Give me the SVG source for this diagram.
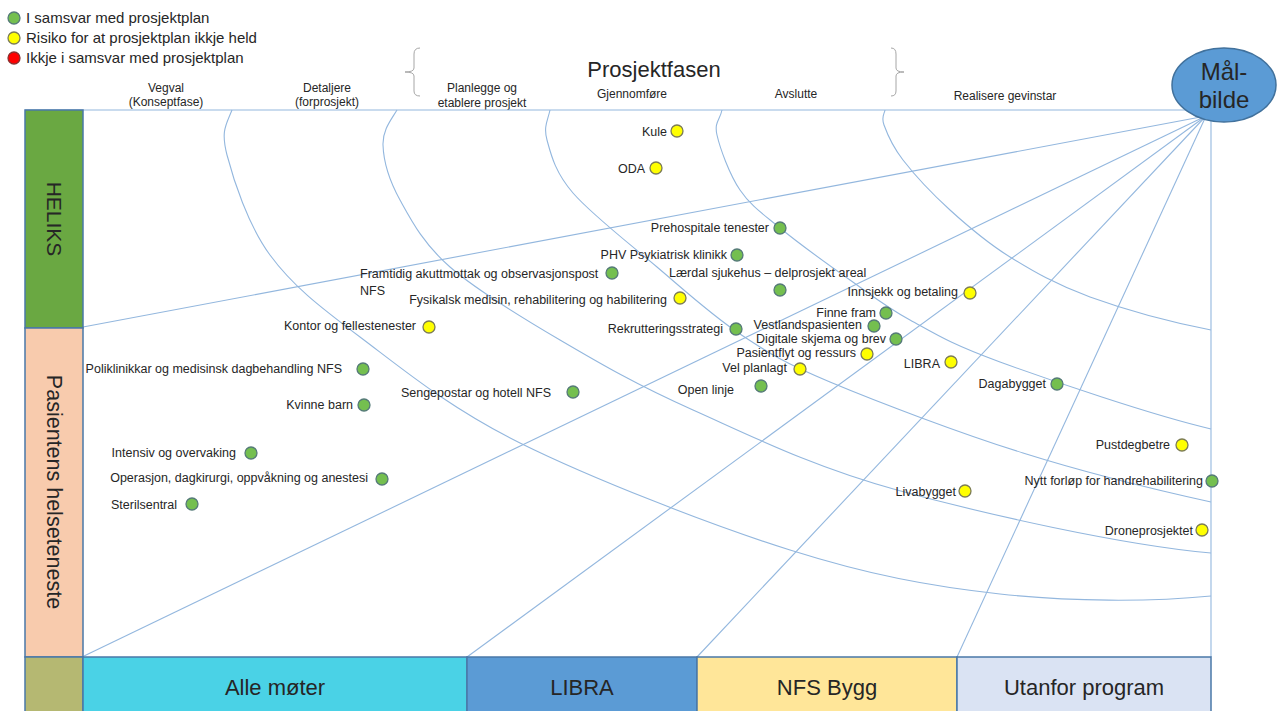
<svg xmlns="http://www.w3.org/2000/svg" width="1277" height="711" viewBox="0 0 1277 711">
<style>
text{font-family:"Liberation Sans",Arial,sans-serif;fill:#262626}
.lbl{font-size:12.5px}
.hdr{font-size:12px;text-anchor:middle}
.leg{font-size:15px}
.big{font-size:22px;text-anchor:middle}
.ln{fill:none;stroke:#93b7de;stroke-width:1.1}
.br{fill:none;stroke:#a6a6a6;stroke-width:1}
.g{fill:#74bf4f;stroke:#557a78;stroke-width:1.3}
.y{fill:#ffff00;stroke:#7c7c55;stroke-width:1.3}
.r{fill:#ff0000;stroke:#8a3030;stroke-width:1.3}
.box{stroke:#4a78a8;stroke-width:1.5}
</style>
<rect width="1277" height="711" fill="#ffffff"/>
<g id="legend">
<circle class="g" cx="14" cy="18" r="6"/><text class="leg" x="26" y="23">I samsvar med prosjektplan</text>
<circle class="y" cx="14" cy="38" r="6"/><text class="leg" x="26" y="43">Risiko for at prosjektplan ikkje held</text>
<circle class="r" cx="14" cy="58" r="6"/><text class="leg" x="26" y="63">Ikkje i samsvar med prosjektplan</text>
</g>
<g id="header">
<path class="br" d="M420,48 Q414,48 414,54 L414,68 Q414,72 405,72 Q414,72 414,76 L414,91 Q414,96 420,96"/>
<path class="br" d="M891,48 Q896,48 896,54 L896,68 Q896,72 904,72 Q896,72 896,76 L896,91 Q896,96 891,96"/>
<text class="big" x="654" y="77">Prosjektfasen</text>
<text class="hdr" x="166" y="92">Vegval</text><text class="hdr" x="166" y="106">(Konseptfase)</text>
<text class="hdr" x="327" y="92">Detaljere</text><text class="hdr" x="327" y="106">(forprosjekt)</text>
<text class="hdr" x="482" y="92">Planlegge og</text><text class="hdr" x="482" y="107">etablere prosjekt</text>
<text class="hdr" x="632" y="98">Gjennomføre</text>
<text class="hdr" x="796" y="98">Avslutte</text>
<text class="hdr" x="1005" y="100">Realisere gevinstar</text>
</g>
<g id="connectors">
<line class="ln" x1="25" y1="110" x2="1190" y2="110"/>
<line class="ln" x1="1211" y1="118" x2="1211" y2="657"/>
<line class="ln" x1="1206" y1="116" x2="83" y2="327"/>
<line class="ln" x1="1206" y1="116" x2="84" y2="656"/>
<line class="ln" x1="1206" y1="116" x2="467" y2="657"/>
<line class="ln" x1="1206" y1="116" x2="697" y2="657"/>
<line class="ln" x1="1206" y1="116" x2="957" y2="657"/>
<path class="ln" d="M232,110 C226,125 220.7,130.8 227,155 C233.3,179.2 247.8,224.7 270,255 C292.2,285.3 318.3,305.7 360,337 C401.7,368.3 448.3,407.5 520,443 C591.7,478.5 710,524.8 790,550 C870,575.2 929.8,586.3 1000,594 C1070,601.7 1150,602 1211,596"/>
<path class="ln" d="M397,110 C391,120 382.5,130 383,145 C383.5,160 388.8,179.7 400,200 C411.2,220.3 423.3,243.7 450,267 C476.7,290.3 519.5,316.2 560,340 C600.5,363.8 636.8,385 693,410 C749.2,435 810.5,466.2 897,490 C983.5,513.8 1122,545 1211,553"/>
<path class="ln" d="M550,110 C548,120 543.2,126.2 547,140 C550.8,153.8 554.7,171.8 573,193 C591.3,214.2 629.2,243.5 657,267 C684.8,290.5 711.2,314.8 740,334 C768.8,353.2 782.8,362.2 830,382 C877.2,401.8 959.3,433 1023,453 C1086.7,473 1152,489 1211,502"/>
<path class="ln" d="M722,110 C720,120 714,121.7 717,135 C720,148.3 729.5,174.5 740,190 C750.5,205.5 761.7,213 780,228 C798.3,243 828.3,264.7 850,280 C871.7,295.3 885,306.3 910,320 C935,333.7 949.8,343.8 1000,362 C1050.2,380.2 1151,415 1211,429"/>
<path class="ln" d="M885,110 C884,115 881,116.7 884,125 C887,133.3 892,145.8 903,160 C914,174.2 932.2,193.8 950,210 C967.8,226.2 986.7,242.5 1010,257 C1033.3,271.5 1056.3,284.8 1090,297 C1123.7,309.2 1170,322 1211,330"/>
</g>
<g id="target">
<ellipse cx="1224" cy="85" rx="52" ry="37" fill="#5b9bd5" stroke="#41719c" stroke-width="1.5"/>
<text x="1224" y="80" font-size="24" text-anchor="middle" fill="#1a1a1a">Mål-</text>
<text x="1224" y="108" font-size="24" text-anchor="middle" fill="#1a1a1a">bilde</text>
</g>
<g id="row-heliks">
<rect class="box" x="25" y="110" width="58" height="218" fill="#6aa842"/>
<text transform="translate(54,219) rotate(90)" y="7" font-size="21" text-anchor="middle">HELIKS</text>
</g>
<g id="row-pasient">
<rect class="box" x="25" y="328" width="58" height="329" fill="#f8cbad"/>
<text transform="translate(54,492) rotate(90)" y="7" font-size="21.5" text-anchor="middle">Pasientens helseteneste</text>
</g>
<g id="col-corner"><rect class="box" x="25" y="657" width="58" height="56" fill="#b5b872"/></g>
<g id="col-alle"><rect class="box" x="83" y="657" width="384" height="56" fill="#4ad2e6"/><text class="big" x="275" y="695">Alle møter</text></g>
<g id="col-libra"><rect class="box" x="467" y="657" width="230" height="56" fill="#5b9bd5"/><text class="big" x="582" y="695">LIBRA</text></g>
<g id="col-nfs"><rect class="box" x="697" y="657" width="260" height="56" fill="#ffe699"/><text class="big" x="827" y="695">NFS Bygg</text></g>
<g id="col-utanfor"><rect class="box" x="957" y="657" width="254" height="56" fill="#dae3f3"/><text class="big" x="1084" y="695">Utanfor program</text></g>
<g id="n-kule"><circle class="y" cx="677" cy="131" r="6"/><text class="lbl" x="667" y="135.5" text-anchor="end">Kule</text></g>
<g id="n-oda"><circle class="y" cx="656" cy="168" r="6"/><text class="lbl" x="645" y="173" text-anchor="end">ODA</text></g>
<g id="n-prehospitale"><circle class="g" cx="780" cy="228" r="6"/><text class="lbl" x="769" y="232" text-anchor="end">Prehospitale tenester</text></g>
<g id="n-phv"><circle class="g" cx="737" cy="255" r="6"/><text class="lbl" x="727" y="259" text-anchor="end">PHV Psykiatrisk klinikk</text></g>
<g id="n-framtidig"><circle class="g" cx="612" cy="273" r="6"/><text class="lbl" x="360" y="278">Framtidig akuttmottak og observasjonspost</text><text class="lbl" x="360" y="295">NFS</text></g>
<g id="n-laerdal"><circle class="g" cx="780" cy="290" r="6"/><text class="lbl" x="669" y="277">Lærdal sjukehus – delprosjekt areal</text></g>
<g id="n-fysikalsk"><circle class="y" cx="680" cy="298" r="6"/><text class="lbl" x="667" y="304" text-anchor="end">Fysikalsk medisin, rehabilitering og habilitering</text></g>
<g id="n-innsjekk"><circle class="y" cx="970" cy="293" r="6"/><text class="lbl" x="958" y="296" text-anchor="end">Innsjekk og betaling</text></g>
<g id="n-kontor"><circle class="y" cx="429" cy="327" r="6"/><text class="lbl" x="416" y="330" text-anchor="end">Kontor og fellestenester</text></g>
<g id="n-finne"><circle class="g" cx="886" cy="313" r="6"/><text class="lbl" x="876" y="317" text-anchor="end">Finne fram</text></g>
<g id="n-rekruttering"><circle class="g" cx="736" cy="329" r="6"/><text class="lbl" x="723" y="333" text-anchor="end">Rekrutteringsstrategi</text></g>
<g id="n-vestland"><circle class="g" cx="874" cy="326" r="6"/><text class="lbl" x="862" y="329" text-anchor="end">Vestlandspasienten</text></g>
<g id="n-digitale"><circle class="g" cx="896" cy="339" r="6"/><text class="lbl" x="886" y="343" text-anchor="end">Digitale skjema og brev</text></g>
<g id="n-pasientflyt"><circle class="y" cx="867" cy="354" r="6"/><text class="lbl" x="856" y="357" text-anchor="end">Pasientflyt og ressurs</text></g>
<g id="n-libra"><circle class="y" cx="951" cy="362" r="6"/><text class="lbl" x="940" y="368" text-anchor="end">LIBRA</text></g>
<g id="n-vel"><circle class="y" cx="800" cy="369" r="6"/><text class="lbl" x="787" y="372" text-anchor="end">Vel planlagt</text></g>
<g id="n-poliklinikk"><circle class="g" cx="363" cy="369" r="6"/><text class="lbl" x="342" y="373" text-anchor="end">Poliklinikkar og medisinsk dagbehandling NFS</text></g>
<g id="n-open"><circle class="g" cx="761" cy="386" r="6"/><text class="lbl" x="734" y="394" text-anchor="end">Open linje</text></g>
<g id="n-daga"><circle class="g" cx="1057" cy="384" r="6"/><text class="lbl" x="1046" y="388" text-anchor="end">Dagabygget</text></g>
<g id="n-senge"><circle class="g" cx="573" cy="392" r="6"/><text class="lbl" x="551" y="397" text-anchor="end">Sengepostar og hotell NFS</text></g>
<g id="n-kvinne"><circle class="g" cx="364" cy="405" r="6"/><text class="lbl" x="353" y="409" text-anchor="end">Kvinne barn</text></g>
<g id="n-pust"><circle class="y" cx="1182" cy="445" r="6"/><text class="lbl" x="1170" y="449" text-anchor="end">Pustdegbetre</text></g>
<g id="n-intensiv"><circle class="g" cx="251" cy="453" r="6"/><text class="lbl" x="236" y="457" text-anchor="end">Intensiv og overvaking</text></g>
<g id="n-operasjon"><circle class="g" cx="382" cy="479" r="6"/><text class="lbl" x="368" y="482" text-anchor="end">Operasjon, dagkirurgi, oppvåkning og anestesi</text></g>
<g id="n-nytt"><circle class="g" cx="1212" cy="481" r="6"/><text class="lbl" x="1203" y="485" text-anchor="end">Nytt forløp for handrehabilitering</text></g>
<g id="n-liva"><circle class="y" cx="965" cy="491" r="6"/><text class="lbl" x="956" y="496" text-anchor="end">Livabygget</text></g>
<g id="n-steril"><circle class="g" cx="192" cy="504" r="6"/><text class="lbl" x="177" y="509" text-anchor="end">Sterilsentral</text></g>
<g id="n-drone"><circle class="y" cx="1202" cy="530" r="6"/><text class="lbl" x="1193" y="535" text-anchor="end">Droneprosjektet</text></g>
</svg>
